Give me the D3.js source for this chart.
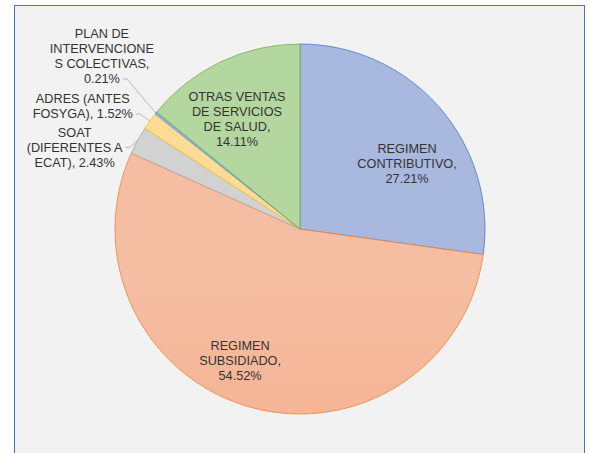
<!DOCTYPE html>
<html>
<head>
<meta charset="utf-8">
<script src="https://cdn.jsdelivr.net/npm/d3@7"></script>
<style>
  body { margin: 0; background: #fff; }
  svg { display: block; }
  text { font-family: "Liberation Sans", Arial, sans-serif; font-size: 12.7px; fill: #333333; }
</style>
</head>
<body>
<div id="pieChart"></div>
<script>
// data
var categories = ['REGIMEN CONTRIBUTIVO', 'REGIMEN SUBSIDIADO', 'SOAT (DIFERENTES A ECAT)',
                  'ADRES (ANTES FOSYGA)', 'PLAN DE INTERVENCIONES COLECTIVAS', 'OTRAS VENTAS DE SERVICIOS DE SALUD'];
var values = [27.21, 54.52, 2.43, 1.52, 0.21, 14.11];
var labelLines = [
  ['REGIMEN', 'CONTRIBUTIVO,', '27.21%'],
  ['REGIMEN', 'SUBSIDIADO,', '54.52%'],
  ['SOAT', '(DIFERENTES A', 'ECAT), 2.43%'],
  ['ADRES (ANTES', 'FOSYGA), 1.52%'],
  ['PLAN DE', 'INTERVENCIONE', 'S COLECTIVAS,', '0.21%'],
  ['OTRAS VENTAS', 'DE SERVICIOS', 'DE SALUD,', '14.11%']
];

var width = 590;
var height = 453;
var cx = 300, cy = 229;
var radius = 185;
var lineH = 15;

// fill gradient top/bottom and outline per slice
var colors = [
  { top: '#a9b8de', bottom: '#859fd8', stroke: '#4472c4' },
  { top: '#f5bea3', bottom: '#f8a681', stroke: '#ed7d31' },
  { top: '#d2d2d2', bottom: '#c4c4c4', stroke: '#a5a5a5' },
  { top: '#ffdc96', bottom: '#ffd27a', stroke: '#ffc000' },
  { top: '#8fb4e0', bottom: '#7ea7dc', stroke: '#5b9bd5' },
  { top: '#b4d7a0', bottom: '#9dca85', stroke: '#70ad47' }
];

// label layout: inside labels are offsets from the centroid,
// outside ones are elbow offsets from the slice edge + the line the leader meets
var labelLayout = [
  { inside: true, dx: 12, dy: 17 },
  { inside: true, dx: -25, dy: 10 },
  { inside: false, ex: -8, ey: 7, attach: 1 },
  { inside: false, ex: -10, ey: -7, attach: 1 },
  { inside: false, ex: -29, ey: -34, attach: 3 },
  { inside: true, dx: -9, dy: 4 }
];

var svg = d3.select('#pieChart')
  .append('svg')
  .attr('width', width)
  .attr('height', height);

// chart area with border
svg.append('rect')
  .attr('x', 14.5).attr('y', 5.5)
  .attr('width', 570).attr('height', 460)
  .attr('fill', '#f2f2f2')
  .attr('stroke', '#4472c4')
  .attr('stroke-width', 1);

var defs = svg.append('defs');
colors.forEach(function(c, i) {
  var g = defs.append('linearGradient')
    .attr('id', 'grad' + i)
    .attr('gradientUnits', 'userSpaceOnUse')
    .attr('x1', 0).attr('y1', cy - radius)
    .attr('x2', 0).attr('y2', cy + radius);
  g.append('stop').attr('offset', '0%').attr('stop-color', c.top);
  g.append('stop').attr('offset', '100%').attr('stop-color', c.bottom);
});

var pie = d3.pie()
  .value(function(d) { return d; })
  .sort(null);

var arc = d3.arc()
  .innerRadius(0)
  .outerRadius(radius);

var arcs = pie(values);

var gPie = svg.append('g')
  .attr('transform', 'translate(' + cx + ',' + cy + ')');

gPie.selectAll('path')
  .data(arcs)
  .enter()
  .append('path')
  .attr('d', arc)
  .attr('fill', function(d, i) { return 'url(#grad' + i + ')'; })
  .attr('stroke', function(d, i) { return colors[i].stroke; })
  .attr('stroke-width', 0.75)
  .attr('stroke-linejoin', 'round');

var labelArc = d3.arc().innerRadius(126).outerRadius(126);

arcs.forEach(function(d, i) {
  var lay = labelLayout[i];
  var lines = labelLines[i];
  var mid = (d.startAngle + d.endAngle) / 2;

  if (lay.inside) {
    var c = labelArc.centroid(d);
    var x = c[0] + lay.dx, y = c[1] + lay.dy;
    var t = gPie.append('text')
      .attr('text-anchor', 'middle');
    lines.forEach(function(s, k) {
      t.append('tspan')
        .attr('x', x)
        .attr('y', y + (k - (lines.length - 1) / 2) * lineH)
        .attr('dy', '0.35em')
        .text(s);
    });
  } else {
    var px = radius * Math.sin(mid), py = -radius * Math.cos(mid);
    var exx = px + lay.ex, eyy = py + lay.ey;
    var endX = exx - 4;
    gPie.append('polyline')
      .attr('points', [[px, py], [exx, eyy], [endX, eyy]].map(function(p) { return p.join(','); }).join(' '))
      .attr('fill', 'none')
      .attr('stroke', '#a6a6a6')
      .attr('stroke-width', 0.75);

    var t2 = gPie.append('text').attr('text-anchor', 'middle');
    var spans = lines.map(function(s) { return t2.append('tspan').text(s); });
    var wAttach = spans[lay.attach].node().getComputedTextLength();
    var centerX = endX - 3 - wAttach / 2;
    spans.forEach(function(sp, k) {
      sp.attr('x', centerX)
        .attr('y', eyy + (k - lay.attach) * lineH)
        .attr('dy', '0.35em');
    });
  }
});
</script>
</body>
</html>
